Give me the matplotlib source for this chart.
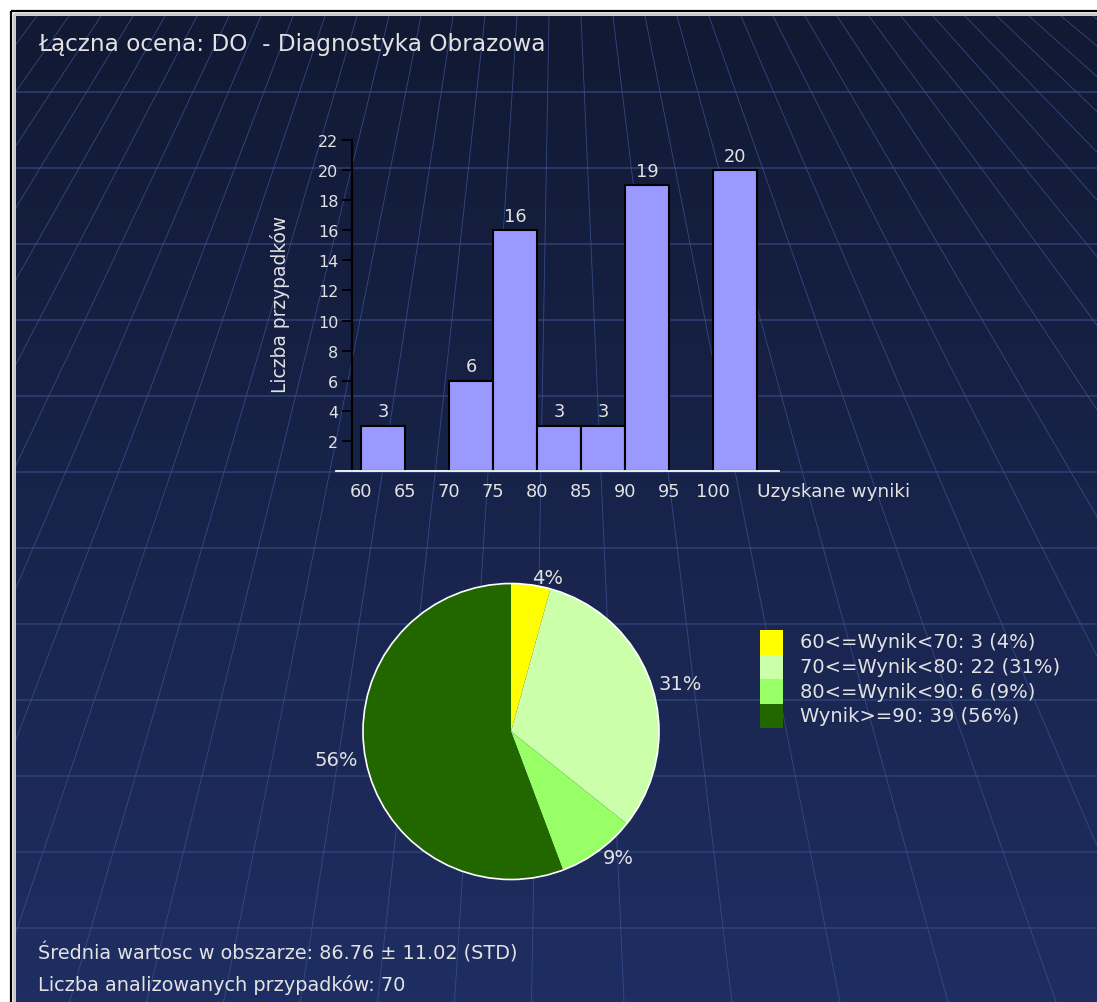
import numpy as np
import matplotlib
matplotlib.use('Agg')
import matplotlib.pyplot as plt
from matplotlib.patches import Rectangle, Circle
from matplotlib.colors import LinearSegmentedColormap

plt.rcParams['font.family'] = ['DejaVu Sans']

W, H = 1097, 1003

# --- data -------------------------------------------------------------
title = 'Łączna ocena: DO  - Diagnostyka Obrazowa'

bin_starts = [60, 65, 70, 75, 80, 85, 90, 95, 100]
bin_counts = [3, 0, 6, 16, 3, 3, 19, 0, 20]
bin_width = 5
y_ticks = [2, 4, 6, 8, 10, 12, 14, 16, 18, 20, 22]
x_label = 'Uzyskane wyniki'
y_label = 'Liczba przypadków'

pie_counts = [3, 22, 6, 39]
pie_pct = ['4%', '31%', '9%', '56%']
pie_colors = ['#ffff00', '#ccffaa', '#99ff66', '#226600']
legend_labels = ['60<=Wynik<70: 3 (4%)', '70<=Wynik<80: 22 (31%)',
                 '80<=Wynik<90: 6 (9%)', 'Wynik>=90: 39 (56%)']

footer = ['Średnia wartosc w obszarze: 86.76 ± 11.02 (STD)',
          'Liczba analizowanych przypadków: 70']

TXT = '#e2e2e2'

fig = plt.figure(figsize=(W / 100, H / 100), dpi=100)
fig.patch.set_facecolor('white')

# background axes in pixel coordinates
bg = fig.add_axes([0, 0, 1, 1])
bg.axis('off')

cmap = LinearSegmentedColormap.from_list('bg', ['#111933', '#1f2e62'])
grad = np.linspace(0, 1, 256).reshape(-1, 1)
bg.imshow(grad, cmap=cmap, extent=(16, W, H, 17), aspect='auto', zorder=0)

clip = Rectangle((16, 17), W - 16, H - 17, transform=bg.transData)

# perspective grid: straight rays, denser at the top, left side squeezed
for yy in np.arange(93, H, 76):
    ln, = bg.plot([16, W], [yy, yy], color='#2e4176', lw=1.1, zorder=1)
    ln.set_clip_path(clip)
for u in np.arange(-24.5, 24.5, 1):
    xt = 565 + 32 * u
    xb = 570 + (77 if u < 0 else 108) * u
    ln, = bg.plot([xt, xb], [17, H], color='#3a5092', lw=0.6, alpha=0.85, zorder=1)
    ln.set_clip_path(clip)

# frame
bg.add_patch(Rectangle((10.5, 11.5), W + 20, H + 20, fill=False, ec='black', lw=1.6, zorder=2))
bg.add_patch(Rectangle((13.5, 14.5), W + 20, H + 20, fill=False, ec='#c8c8c8', lw=2.0, zorder=2))

bg.set_xlim(0, W)
bg.set_ylim(H, 0)

bg.text(38, 44, title, color=TXT, fontsize=16.7, ha='left', va='center')
bg.text(757, 492, x_label, color=TXT, fontsize=13.3, ha='left', va='center')
bg.text(280, 304, y_label, color=TXT, fontsize=13.4, ha='center', va='center', rotation=90)
bg.text(38, 953, footer[0], color=TXT, fontsize=13.9, ha='left', va='center')
bg.text(38, 985, footer[1], color=TXT, fontsize=13.9, ha='left', va='center')

# legend
for i, (lab, col) in enumerate(zip(legend_labels, pie_colors)):
    top = 631 + i * 24.5
    bg.add_patch(Rectangle((760, top), 23, 24.5, fc=col, ec='none', zorder=3))
    bg.text(800, top + 12, lab, color=TXT, fontsize=14, ha='left', va='center')

# --- histogram --------------------------------------------------------
x0, x1, y0, y1 = 336, 779, 472, 141
ax = fig.add_axes([x0 / W, 1 - y0 / H, (x1 - x0) / W, (y0 - y1) / H])
ax.patch.set_alpha(0)
bx = [b for b, c in zip(bin_starts, bin_counts) if c > 0]
bh = [c for c in bin_counts if c > 0]
bars = ax.bar(bx, bh, width=bin_width, align='edge', color='#9999ff',
              edgecolor='black', linewidth=1.5, zorder=3)
ax.bar_label(bars, padding=4, color=TXT, fontsize=12.8)
ax.set_xlim(57.16, 107.5)
ax.set_ylim(0, 22)
ax.set_xticks(bin_starts)
ax.set_yticks(y_ticks)
ax.tick_params(axis='x', length=0, pad=8, labelsize=12.8, labelcolor=TXT)
ax.tick_params(axis='y', length=7, width=1.3, color='black', pad=3,
               labelsize=11.5, labelcolor=TXT)
for side in ('top', 'right'):
    ax.spines[side].set_visible(False)
ax.spines['left'].set_position(('data', 59))
ax.spines['left'].set_color('black')
ax.spines['left'].set_linewidth(1.6)
ax.spines['bottom'].set_color('white')
ax.spines['bottom'].set_linewidth(1.3)
ax.spines['bottom'].set_zorder(5)

# --- pie --------------------------------------------------------------
R, cx, cy = 148, 511, 732.5
lim = 1.6
size = 2 * R * lim
pax = fig.add_axes([(cx - R * lim) / W, 1 - (cy + R * lim) / H, size / W, size / H])
pax.pie(pie_counts, colors=pie_colors, startangle=90, counterclock=False,
        labels=pie_pct, labeldistance=1.05, wedgeprops=dict(linewidth=0),
        textprops=dict(color=TXT, fontsize=14))
pax.add_patch(Circle((0, 0), 1, fill=False, ec='white', lw=1.2))
pax.set_xlim(-lim, lim)
pax.set_ylim(-lim, lim)
pax.axis('off')

fig.savefig('out.png', dpi=100)
